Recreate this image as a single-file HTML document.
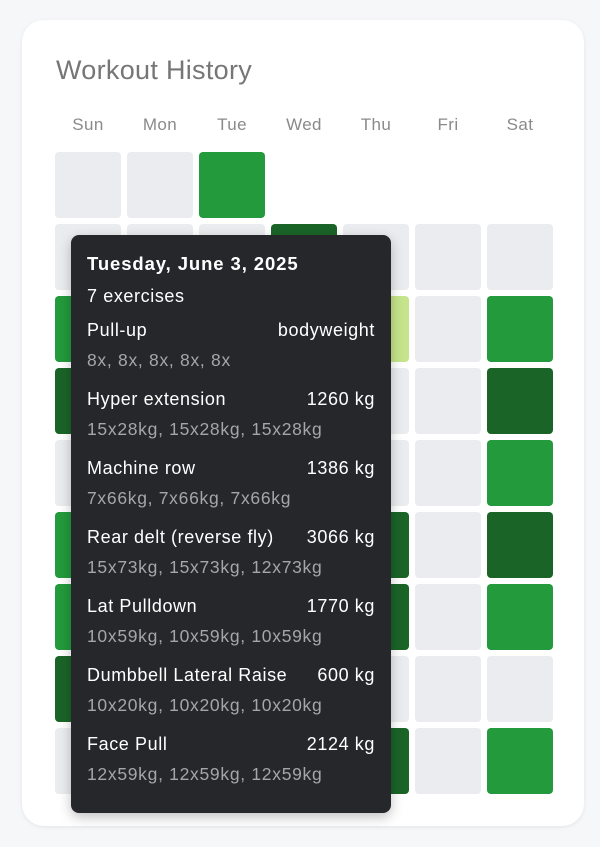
<!DOCTYPE html>
<html><head><meta charset="utf-8">
<style>
body{margin:0;width:600px;height:847px;background:#f6f7f9;font-family:"Liberation Sans",sans-serif;position:relative;overflow:hidden}
#card{position:absolute;left:22px;top:20px;width:562px;height:806px;background:#fff;border-radius:22px;box-shadow:0 1px 4px rgba(0,0,0,.08)}
#title{position:absolute;left:56px;top:55px;font-size:27px;color:#767676;letter-spacing:0.3px}
.dl{position:absolute;top:115px;width:66px;text-align:center;font-size:17px;color:#8a8a8a;letter-spacing:0.4px}
.cell{position:absolute;width:66px;height:66px;border-radius:4px}
#tip{position:absolute;left:71px;top:235px;width:320px;height:578px;background:#25272b;border-radius:8px;box-shadow:0 4px 12px rgba(0,0,0,.25);color:#fff}
.t{position:absolute;left:16px;right:16px;font-size:18px;white-space:nowrap;letter-spacing:0.6px}
.t .v{position:absolute;right:0}
.d{position:absolute;left:16px;font-size:17.5px;color:#a4a6aa;white-space:nowrap;letter-spacing:0.7px}
</style></head><body>
<div id="card"></div>
<div id="title">Workout History</div>
<div id="grid"></div>
<div id="tip">
<div class="t" style="top:18px;font-weight:bold;font-size:18.5px;letter-spacing:0.9px">Tuesday, June 3, 2025</div>
<div class="t" style="top:51px">7 exercises</div>
</div>
<script>
const days=["Sun","Mon","Tue","Wed","Thu","Fri","Sat"];
// levels: -1 none, 0 empty, 1 light, 2 mid, 3 dark
const levels=[
[0,0,2,-1,-1,-1,-1],
[0,0,0,3,0,0,0],
[2,0,0,0,1,0,2],
[3,0,0,0,0,0,3],
[0,0,0,0,0,0,2],
[2,0,0,0,3,0,3],
[2,0,0,0,3,0,2],
[3,0,0,0,0,0,0],
[0,0,0,0,3,0,2]];
const exNames=["Pull-up","Hyper extension","Machine row","Rear delt (reverse fly)","Lat Pulldown","Dumbbell Lateral Raise","Face Pull"];
const exVolumes=["bodyweight","1260 kg","1386 kg","3066 kg","1770 kg","600 kg","2124 kg"];
const exSets=["8x, 8x, 8x, 8x, 8x","15x28kg, 15x28kg, 15x28kg","7x66kg, 7x66kg, 7x66kg","15x73kg, 15x73kg, 12x73kg","10x59kg, 10x59kg, 10x59kg","10x20kg, 10x20kg, 10x20kg","12x59kg, 12x59kg, 12x59kg"];
const colors=["#ebecef","#c6e48b","#239a3b","#1a6428"];
const colX=c=>55+c*72, rowY=r=>152+r*72;
days.forEach((d,i)=>{const e=document.createElement('div');e.className='dl';e.style.left=colX(i)+'px';e.textContent=d;


document.body.appendChild(e);});
const g=document.getElementById('grid');
levels.forEach((row,r)=>row.forEach((l,c)=>{if(l<0)return;const e=document.createElement('div');e.className='cell';
e.style.left=colX(c)+'px';e.style.top=rowY(r)+'px';e.style.background=colors[l];


g.appendChild(e);}));
const tip=document.getElementById('tip');
exNames.forEach((n,i)=>{const y=85+i*69;
const a=document.createElement('div');a.className='t';a.style.top=y+'px';a.innerHTML=n+'<span class="v">'+exVolumes[i]+'</span>';


tip.appendChild(a);
const b=document.createElement('div');b.className='d';b.style.top=(y+30)+'px';b.textContent=exSets[i];


tip.appendChild(b);});
</script>
</body></html>
